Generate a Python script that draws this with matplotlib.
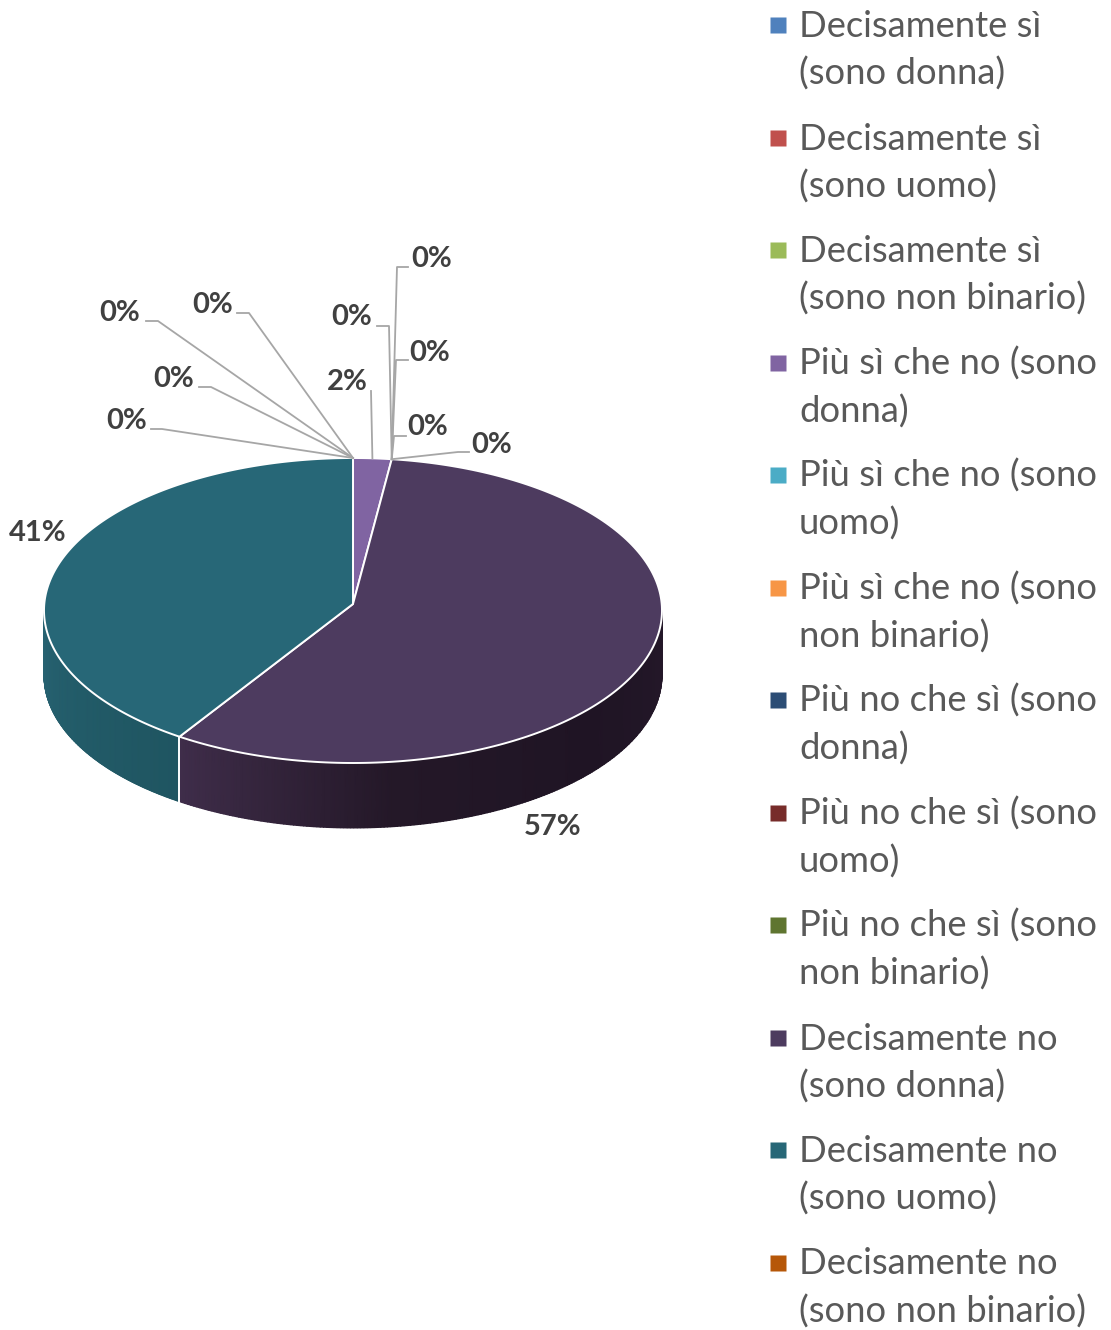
import matplotlib
matplotlib.use('Agg')
import matplotlib.pyplot as plt
from matplotlib.colors import LinearSegmentedColormap
import numpy as np

plt.rcParams['font.family'] = ['Lato', 'DejaVu Sans']

## Data, same order as the legend
labels = ['Decisamente sì\n(sono donna)', 'Decisamente sì\n(sono uomo)',
          'Decisamente sì\n(sono non binario)', 'Più sì che no (sono\ndonna)',
          'Più sì che no (sono\nuomo)', 'Più sì che no (sono\nnon binario)',
          'Più no che sì (sono\ndonna)', 'Più no che sì (sono\nuomo)',
          'Più no che sì (sono\nnon binario)', 'Decisamente no\n(sono donna)',
          'Decisamente no\n(sono uomo)', 'Decisamente no\n(sono non binario)']
values = [0, 0, 0, 2.0, 0, 0, 0, 0, 0, 57.49, 40.51, 0]
colors = ['#4f81bd', '#c0504d', '#9bbb59', '#8064a2', '#4bacc6', '#f79646',
          '#2c4d75', '#772c2a', '#5f7530', '#4d3b5f', '#276777', '#b65708']

## Label positions in pixels (x, y) and the elbow of each leader line (None = no leader)
label_pos = [(120, 313), (174, 379), (213, 305), (347, 382), (352, 317), (432, 259),
             (430, 353), (428, 427), (492, 445), (553, 827), (38, 533), (127, 421)]
leaders = [[(146, 321), (158, 321)], [(199, 387), (211, 387)], [(237, 313), (249, 313)],
           [(371, 391)], [(377, 326), (389, 326)], [(408, 267), (397, 267)],
           [(408, 360), (396, 360)], [(406, 436), (394, 436)], [(469, 452), (458, 452)],
           None, None, [(151, 429), (162, 429)]]

## Pie geometry in pixels
apex_x, apex_y = 353, 604
cx, cy = 353, 610.5
rx, ry = 309, 152.5
depth = 65

def rim(theta):
    # theta in degrees, clockwise from the top
    t = np.radians(theta)
    return cx + rx * np.sin(t), cy - ry * np.cos(t)

fig = plt.figure(figsize=(11.11, 13.3), dpi=100)
ax = fig.add_axes([0, 0, 1, 1])
ax.set_xlim(0, 1111)
ax.set_ylim(1330, 0)
ax.axis('off')

edges = np.concatenate([[0], np.cumsum(values)]) / np.sum(values) * 360

## Side wall, one smooth shaded mesh per slice
wall_shades = {9: ['#241829', '#1f1424', '#241828', '#3f2d4a'],
               10: ['#1f5561', '#225b68', '#276272']}
for i, shades in wall_shades.items():
    th = np.linspace(max(edges[i], 90), min(edges[i + 1], 270), 200)
    x, y = rim(th)
    frac = np.linspace(0, 1, len(th))
    cmap = LinearSegmentedColormap.from_list('wall', shades)
    ax.pcolormesh(np.vstack([x, x]), np.vstack([y, y + depth]), np.vstack([frac, frac]),
                  shading='gouraud', cmap=cmap, zorder=1)
ax.set_xlim(0, 1111)
ax.set_ylim(1330, 0)

## White line between the two wall pieces
bx, by = rim(edges[10])
ax.plot([bx, bx], [by, by + depth], color='white', lw=1.4, zorder=2)

## Top face
for i, v in enumerate(values):
    if v == 0:
        continue
    th = np.linspace(edges[i], edges[i + 1], 200)
    x, y = rim(th)
    ax.fill(np.r_[apex_x, x], np.r_[apex_y, y], facecolor=colors[i], edgecolor='white',
            lw=1.4, joinstyle='round', zorder=3)

## Data labels and leader lines
for i, v in enumerate(values):
    lx, ly = label_pos[i]
    ax.text(lx, ly, f'{round(v)}%', ha='center', va='center', fontsize=21,
            fontweight='bold', color='#404040', zorder=6)
    if leaders[i] is not None:
        ax_, ay_ = rim((edges[i] + edges[i + 1]) / 2)
        pts = leaders[i] + [(float(ax_), float(ay_))]
        ax.plot([p[0] for p in pts], [p[1] for p in pts], color='#a6a6a6', lw=1.3, zorder=5)

## Legend
first_y = 25
step = 112.5
for i, label in enumerate(labels):
    y = first_y + i * step
    ax.plot(778, y, marker='s', ms=11.8, mfc=colors[i], mec='none', zorder=4)
    for j, line in enumerate(label.split('\n')):
        ax.text(799, y + 12 + j * 48, line, ha='left', va='baseline', fontsize=26.2,
                color='#595959')

plt.savefig('out.png', dpi=100)
